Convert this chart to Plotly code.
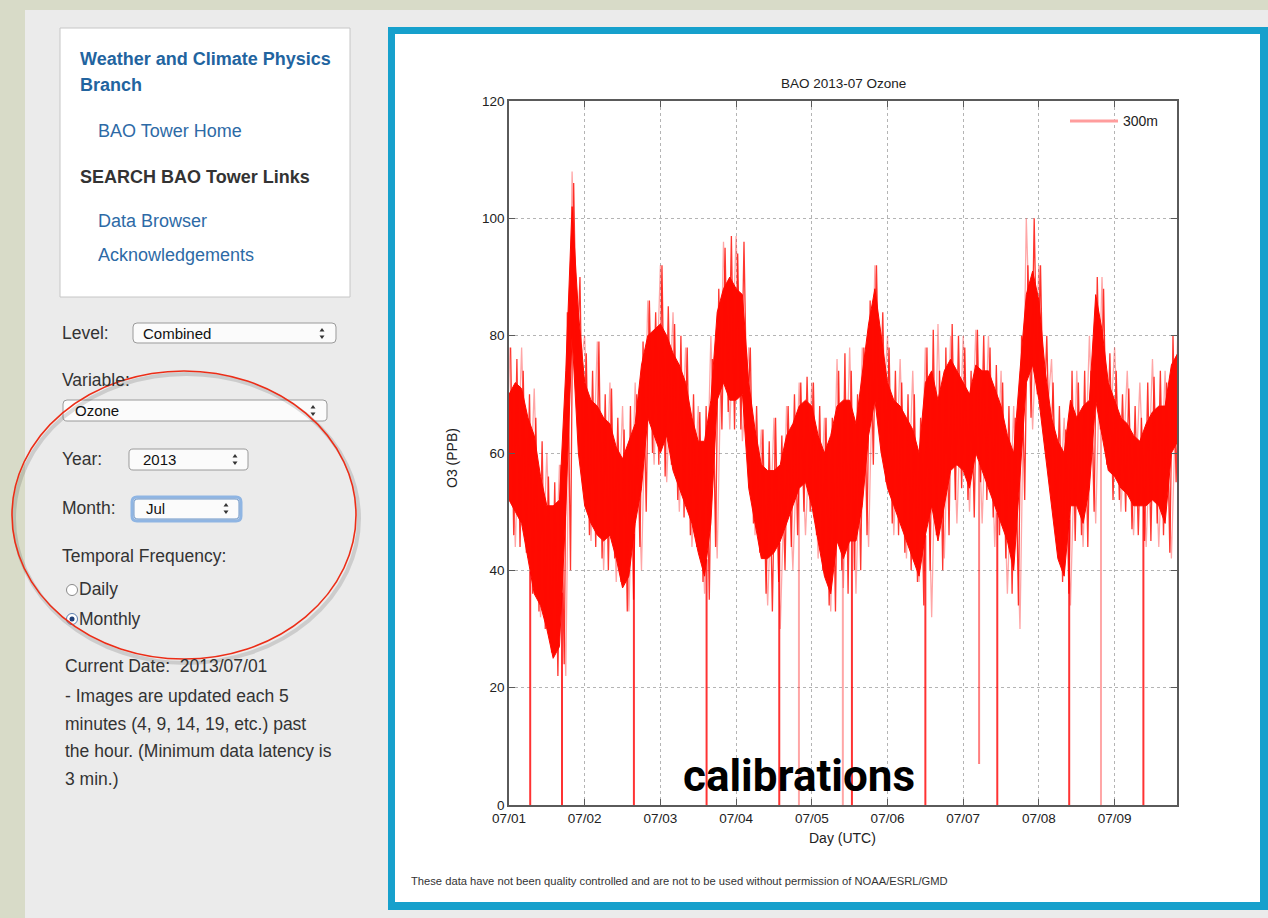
import numpy as np
import pandas as pd
import plotly.graph_objects as go

W, H = 1268, 918

# ---------------- data ----------------
# core band of the 300 m ozone record, 2-hourly upper / lower values (ppb)
o3_core_hi = [70, 72, 71, 66, 63, 56, 51, 51, 52, 74, 102, 84,
              72, 69, 68, 66, 65, 61, 59, 62, 65, 75, 80, 81,
              82, 80, 77, 75, 72, 66, 62, 62, 69, 84, 88, 90,
              88, 87, 72, 64, 58, 57, 57, 58, 63, 65, 68, 69,
              68, 63, 60, 63, 68, 69, 69, 65, 74, 82, 88, 80,
              72, 69, 68, 66, 64, 60, 72, 74, 69, 74, 76, 74,
              72, 70, 75, 74, 74, 71, 68, 63, 60, 74, 87, 91,
              86, 74, 66, 62, 60, 69, 66, 68, 69, 87, 81, 72,
              69, 66, 65, 63, 62, 65, 67, 68, 68, 75, 77]
o3_core_lo = [52, 50, 48, 42, 36, 34, 30, 25, 27, 50, 80, 60,
              51, 48, 46, 45, 46, 42, 37, 39, 48, 54, 66, 63,
              60, 63, 57, 54, 51, 48, 43, 39, 48, 69, 72, 69,
              69, 70, 54, 48, 42, 42, 43, 45, 48, 51, 54, 55,
              51, 45, 39, 36, 45, 42, 45, 45, 51, 63, 69, 60,
              54, 51, 48, 45, 42, 39, 46, 51, 45, 51, 57, 58,
              57, 54, 60, 57, 54, 51, 48, 45, 40, 57, 72, 75,
              69, 60, 51, 42, 39, 51, 51, 48, 54, 69, 63, 57,
              56, 54, 53, 51, 51, 51, 52, 51, 48, 60, 62]
# short-term excursions around the band, 2-hourly highs / lows (ppb)
o3_spike_hi = [78, 76, 74, 70, 66, 62, 56, 55, 58, 84, 106, 90,
               77, 74, 79, 70, 71, 66, 64, 68, 70, 79, 86, 84,
               92, 85, 82, 80, 78, 70, 67, 68, 76, 88, 95, 97,
               94, 96, 78, 68, 64, 62, 66, 63, 68, 70, 72, 73,
               72, 68, 66, 66, 74, 77, 74, 70, 78, 86, 92, 84,
               78, 74, 72, 70, 70, 66, 78, 81, 74, 78, 82, 80,
               78, 74, 81, 80, 78, 75, 72, 68, 66, 80, 92, 100,
               92, 80, 72, 68, 64, 74, 72, 74, 74, 90, 88, 77,
               74, 70, 71, 68, 66, 72, 73, 74, 72, 80, 80]
o3_spike_lo = [46, 44, 43, 36, 33, 30, 26, 22, 24, 40, 74, 54,
               46, 44, 42, 40, 42, 38, 33, 35, 44, 50, 60, 58,
               56, 58, 52, 49, 46, 44, 38, 35, 44, 64, 67, 64,
               64, 64, 48, 43, 36, 33, 38, 40, 44, 46, 50, 50,
               46, 40, 34, 33, 40, 36, 40, 40, 46, 58, 64, 55,
               48, 46, 43, 40, 38, 34, 40, 46, 40, 46, 52, 54,
               52, 49, 55, 52, 49, 46, 42, 36, 34, 52, 66, 70,
               64, 55, 46, 38, 36, 45, 46, 44, 50, 64, 58, 52,
               52, 50, 47, 46, 45, 45, 48, 46, 43, 55, 57]
# faint outer spikes, 4-hourly upper / lower values (ppb)
o3_outer_hi = [78, 78, 71, 60, 58, 108, 80, 79, 72, 68, 72, 86,
               92, 84, 78, 68, 80, 96, 97, 78, 64, 66, 68, 72,
               72, 66, 76, 78, 78, 92, 80, 76, 74, 78, 82, 80,
               80, 81, 80, 74, 68, 100, 92, 76, 66, 74, 80, 90,
               78, 74, 72, 76, 74, 80]
o3_outer_lo = [44, 42, 32, 26, 22, 72, 45, 40, 38, 33, 40, 58,
               55, 50, 44, 36, 42, 64, 62, 46, 34, 30, 40, 46,
               42, 33, 37, 36, 44, 60, 46, 42, 38, 32, 42, 48,
               50, 48, 44, 36, 30, 64, 62, 44, 34, 44, 48, 58,
               50, 46, 44, 44, 42, 56]
# calibration drops (days after 07/01 00 UTC)
cal_days_strong = [0.28, 0.70, 1.65, 2.61, 3.57, 4.53, 5.50, 6.45, 7.40, 8.38]
cal_days_faint = [3.83, 4.41, 7.82]
cal_partial_days = [6.21]
cal_partial_min = [7]

y_ticks = [0, 20, 40, 60, 80, 100, 120]
x_tick_days = [0, 1, 2, 3, 4, 5, 6, 7, 8]
x_tick_labels = ["07/01", "07/02", "07/03", "07/04", "07/05",
                 "07/06", "07/07", "07/08", "07/09"]
x_end_day = 8.824

base = pd.Timestamp("2013-07-01")


def to_time(hours):
    return [base + pd.Timedelta(hours=float(h)) for h in hours]


def interleave(hi, lo, step_h, offset_h):
    k = len(hi)
    hrs = np.empty(2 * k)
    hrs[0::2] = np.arange(k) * step_h + offset_h
    hrs[1::2] = np.arange(k) * step_h + offset_h + step_h / 2
    vals = np.empty(2 * k)
    vals[0::2] = hi
    vals[1::2] = lo
    return to_time(hrs), vals


n = len(o3_core_hi)
core_times = to_time(np.arange(n) * 2)
spike_t, spike_v = interleave(o3_spike_hi, o3_spike_lo, 2, 0.5)
outer_t, outer_v = interleave(o3_outer_hi, o3_outer_lo, 4, 0)
lo_days = np.arange(n) * 2 / 24.0


def cal_segments(days, mins=None):
    xs, ys = [], []
    for i, d in enumerate(days):
        top = float(np.interp(d, lo_days, o3_core_lo))
        bottom = 0 if mins is None else mins[i]
        t = base + pd.Timedelta(days=d)
        xs += [t, t, None]
        ys += [top, bottom, None]
    return xs, ys


RED = "#ff0a00"
fig = go.Figure()
fig.add_trace(go.Scatter(x=outer_t, y=outer_v, mode="lines",
                         line=dict(color="rgba(255,0,0,0.35)", width=1.3),
                         hoverinfo="skip", showlegend=False))
fig.add_trace(go.Scatter(x=core_times, y=o3_core_lo, mode="lines",
                         line=dict(color=RED, width=1),
                         hoverinfo="skip", showlegend=False))
fig.add_trace(go.Scatter(x=core_times, y=o3_core_hi, mode="lines",
                         line=dict(color=RED, width=1), fill="tonexty",
                         fillcolor=RED, name="300m", showlegend=False))
fig.add_trace(go.Scatter(x=spike_t, y=spike_v, mode="lines",
                         line=dict(color="rgba(255,10,0,0.82)", width=1.3),
                         hoverinfo="skip", showlegend=False))
xs, ys = cal_segments(cal_days_faint)
fig.add_trace(go.Scatter(x=xs, y=ys, mode="lines",
                         line=dict(color="rgba(255,0,0,0.35)", width=2),
                         hoverinfo="skip", showlegend=False))
xs, ys = cal_segments(cal_days_strong)
fig.add_trace(go.Scatter(x=xs, y=ys, mode="lines",
                         line=dict(color="rgba(255,0,0,0.8)", width=2),
                         hoverinfo="skip", showlegend=False))
xs, ys = cal_segments(cal_partial_days, cal_partial_min)
fig.add_trace(go.Scatter(x=xs, y=ys, mode="lines",
                         line=dict(color="rgba(255,0,0,0.5)", width=2),
                         hoverinfo="skip", showlegend=False))


# ---------------- page layout helpers ----------------
def px(x):
    return x / W


def py(y):
    return 1 - y / H


shapes = []
annots = []


def rect(x0, y0, x1, y1, fill, line=None, lw=0, layer="below"):
    shapes.append(dict(type="rect", xref="paper", yref="paper",
                       x0=px(x0), x1=px(x1), y0=py(y0), y1=py(y1),
                       fillcolor=fill, layer=layer,
                       line=dict(color=line or fill, width=lw)))


def rrect(x0, y0, x1, y1, r, fill, line, lw=1):
    def P(x, y):
        return f"{px(x):.6f},{py(y):.6f}"
    path = (f"M{P(x0 + r, y0)} L{P(x1 - r, y0)} Q{P(x1, y0)} {P(x1, y0 + r)} "
            f"L{P(x1, y1 - r)} Q{P(x1, y1)} {P(x1 - r, y1)} "
            f"L{P(x0 + r, y1)} Q{P(x0, y1)} {P(x0, y1 - r)} "
            f"L{P(x0, y0 + r)} Q{P(x0, y0)} {P(x0 + r, y0)} Z")
    shapes.append(dict(type="path", xref="paper", yref="paper", path=path,
                       fillcolor=fill, line=dict(color=line, width=lw),
                       layer="below"))


def tri(cx, cy, up, color="#333"):
    def P(x, y):
        return f"{px(x):.6f},{py(y):.6f}"
    if up:
        path = f"M{P(cx - 2.5, cy + 1.5)} L{P(cx + 2.5, cy + 1.5)} L{P(cx, cy - 2)} Z"
    else:
        path = f"M{P(cx - 2.5, cy - 1.5)} L{P(cx + 2.5, cy - 1.5)} L{P(cx, cy + 2)} Z"
    shapes.append(dict(type="path", xref="paper", yref="paper", path=path,
                       fillcolor=color, line=dict(color=color, width=0),
                       layer="above"))


def circle(cx, cy, r, fill, line, lw=1, layer="above"):
    shapes.append(dict(type="circle", xref="paper", yref="paper",
                       x0=px(cx - r), x1=px(cx + r), y0=py(cy + r), y1=py(cy - r),
                       fillcolor=fill, line=dict(color=line, width=lw),
                       layer=layer))


def text(x, y, s, size=18, color="#333", bold=False, anchor="left",
         family="Liberation Sans, Arial, sans-serif", angle=0):
    if anchor == "left":
        x -= 2  # compensate annotation padding
    annots.append(dict(xref="paper", yref="paper", x=px(x), y=py(y),
                       text=f"<b>{s}</b>" if bold else s, showarrow=False,
                       xanchor=anchor, yanchor="middle", textangle=angle,
                       font=dict(size=size, color=color, family=family)))


# page background panels
rect(25, 10, W + 2, H + 2, "#ebebeb")
rect(60, 28, 350, 297, "#ffffff", "#c6c6c6", 1)
rect(388, 27, W + 2, 910, "#16a0cc")
rect(395, 34, 1260, 902, "#ffffff")

# sidebar navigation
blue = "#22649f"
text(80, 59, "Weather and Climate Physics", 18, blue, bold=True)
text(80, 85, "Branch", 18, blue, bold=True)
text(98, 131, "BAO Tower Home", 18, "#2d6aa6")
text(80, 177, "SEARCH BAO Tower Links", 18, "#333", bold=True)
text(98, 221, "Data Browser", 18, "#2d6aa6")
text(98, 255, "Acknowledgements", 18, "#2d6aa6")

# form controls
text(62, 333, "Level:", 17.5, "#333")
rrect(133, 323, 336, 343, 4, "#fbfbfb", "#9a9a9a", 1)
text(143, 333, "Combined", 15, "#111")
tri(322, 330, True); tri(322, 337, False)

text(62, 380, "Variable:", 17.5, "#333")
rrect(63, 400, 327, 421, 4, "#fbfbfb", "#9a9a9a", 1)
text(75, 411, "Ozone", 15, "#111")
tri(313, 407, True); tri(313, 414, False)

text(62, 459, "Year:", 17.5, "#333")
rrect(129, 449, 248, 470, 4, "#fbfbfb", "#9a9a9a", 1)
text(143, 460, "2013", 15, "#111")
tri(235, 456, True); tri(235, 463, False)

text(62, 508, "Month:", 17.5, "#333")
rrect(132, 497, 241, 521, 5, "rgba(0,0,0,0)", "#8fb5e3", 3)
rrect(134, 499, 239, 519, 4, "#fbfbfb", "#6d96c8", 1)
text(146, 509, "Jul", 15, "#111")
tri(226, 505, True); tri(226, 512, False)

text(62, 556, "Temporal Frequency:", 17.5, "#333")
circle(72, 590, 5.5, "#ffffff", "#8a8a8a", 1)
text(79, 589, "Daily", 17.5, "#333")
circle(72, 619, 5.5, "#ffffff", "#5d7fae", 1)
circle(72, 619, 2.5, "#1f3f77", "#1f3f77", 0)
text(79, 619, "Monthly", 17.5, "#333")

# highlight ellipse
shapes.append(dict(type="circle", xref="paper", yref="paper",
                   x0=px(14), x1=px(359), y0=py(663), y1=py(374),
                   line=dict(color="rgba(0,0,0,0.13)", width=4), layer="above"))
shapes.append(dict(type="circle", xref="paper", yref="paper",
                   x0=px(12), x1=px(356), y0=py(659), y1=py(371),
                   line=dict(color="#ec2d17", width=1.6), layer="above"))

text(65, 666, "Current Date:&nbsp;&nbsp;2013/07/01", 17.5, "#333")
text(65, 696, "- Images are updated each 5", 17.5, "#333")
text(65, 724, "minutes (4, 9, 14, 19, etc.) past", 17.5, "#333")
text(65, 751, "the hour. (Minimum data latency is", 17.5, "#333")
text(65, 779, "3 min.)", 17.5, "#333")

# chart texts
cf = "Liberation Sans, Arial, sans-serif"
text(843, 83, "BAO 2013-07 Ozone", 13.5, "#222", family=cf, anchor="center")
text(452, 458, "O3 (PPB)", 14, "#222", family=cf, anchor="center", angle=-90)
text(842, 838, "Day (UTC)", 14, "#222", family=cf, anchor="center")
text(411, 881, "These data have not been quality controlled and are not to be used "
     "without permission of NOAA/ESRL/GMD", 11.2, "#333", family=cf)
# legend
shapes.append(dict(type="line", xref="paper", yref="paper",
                   x0=px(1070), x1=px(1118), y0=py(121), y1=py(121),
                   line=dict(color="#ff9d9d", width=3), layer="above"))
text(1123, 121, "300m", 14, "#222", family=cf)
# overlay label
text(799, 776, "calibrations", 44, "#000", bold=True,
     family="Roboto, Liberation Sans, sans-serif", anchor="center")

axis_common = dict(showline=True, linecolor="#5a5a5a", linewidth=1.5, mirror="ticks",
                   ticks="inside", ticklen=6, tickcolor="#5a5a5a", tickwidth=1,
                   showgrid=True, gridcolor="#b4b4b4", griddash="dot", gridwidth=1,
                   zeroline=False, automargin=False,
                   tickfont=dict(family=cf, size=13.5, color="#222"))

fig.update_layout(
    width=W, height=H, autosize=False,
    margin=dict(l=0, r=0, t=0, b=0, pad=0, autoexpand=False),
    paper_bgcolor="#d8dbc8", plot_bgcolor="#ffffff",
    showlegend=False,
    shapes=shapes, annotations=annots,
    xaxis=dict(domain=[px(509), px(1177)], type="date",
               range=[base, base + pd.Timedelta(days=x_end_day)],
               tickvals=[base + pd.Timedelta(days=d) for d in x_tick_days],
               ticktext=x_tick_labels, **axis_common),
    yaxis=dict(domain=[py(805), py(101)], range=[0, 120],
               tickvals=y_ticks, ticktext=[str(v) for v in y_ticks], **axis_common),
)

fig.write_html(
    "out.html",
    config={"displayModeBar": False, "responsive": False},
    post_script=("document.documentElement.style.margin='0';"
                 "document.body.style.margin='0';"
                 "document.body.style.padding='0';"
                 "document.documentElement.style.overflow='hidden';"
                 "document.body.style.overflow='hidden';"),
)
